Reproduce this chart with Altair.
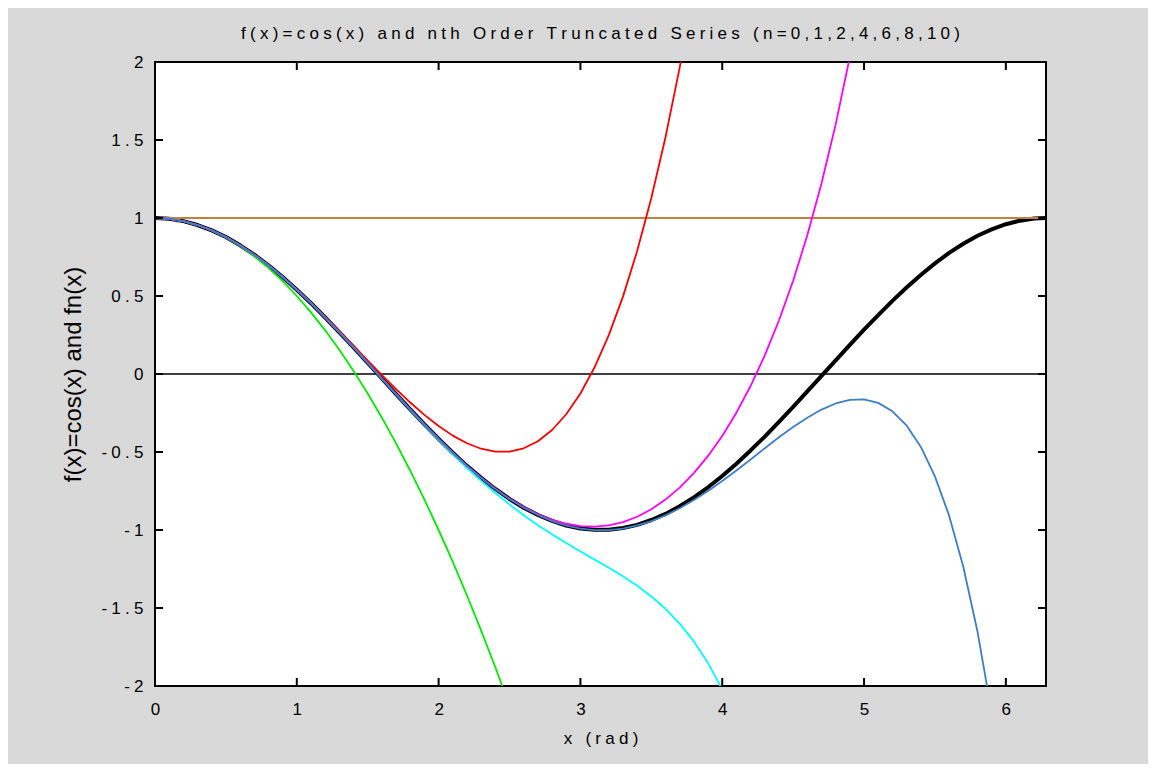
import altair as alt
import pandas as pd

# ---- data ----
xs = [0.0, 0.1, 0.2, 0.3, 0.4, 0.5, 0.6, 0.7, 0.8, 0.9,
      1.0, 1.1, 1.2, 1.3, 1.4, 1.5, 1.6, 1.7, 1.8, 1.9,
      2.0, 2.1, 2.2, 2.3, 2.4, 2.5, 2.6, 2.7, 2.8, 2.9,
      3.0, 3.1, 3.2, 3.3, 3.4, 3.5, 3.6, 3.7, 3.8, 3.9,
      4.0, 4.1, 4.2, 4.3, 4.4, 4.5, 4.6, 4.7, 4.8, 4.9,
      5.0, 5.1, 5.2, 5.3, 5.4, 5.5, 5.6, 5.7, 5.8, 5.9,
      6.0, 6.1, 6.2, 6.283]

cos_vals = [1.000, 0.995, 0.980, 0.955, 0.921, 0.878, 0.825, 0.765, 0.697, 0.622,
            0.540, 0.454, 0.362, 0.267, 0.170, 0.071, -0.029, -0.129, -0.227, -0.323,
            -0.416, -0.505, -0.589, -0.666, -0.737, -0.801, -0.857, -0.904, -0.942, -0.971,
            -0.990, -0.999, -0.998, -0.987, -0.967, -0.936, -0.897, -0.848, -0.791, -0.726,
            -0.654, -0.575, -0.490, -0.401, -0.307, -0.211, -0.112, -0.012, 0.087, 0.187,
            0.284, 0.378, 0.469, 0.554, 0.635, 0.709, 0.776, 0.835, 0.886, 0.927,
            0.960, 0.983, 0.997, 1.000]

n0_x = [0.0, 6.283]
n0_vals = [1.0, 1.0]

n2_vals = [1.000, 0.995, 0.980, 0.955, 0.920, 0.875, 0.820, 0.755, 0.680, 0.595,
           0.500, 0.395, 0.280, 0.155, 0.020, -0.125, -0.280, -0.445, -0.620, -0.805,
           -1.000, -1.205, -1.420, -1.645, -1.880, -2.125]

n4_vals = [1.000, 0.995, 0.980, 0.955, 0.921, 0.878, 0.825, 0.765, 0.697, 0.622,
           0.542, 0.456, 0.366, 0.274, 0.180, 0.086, -0.007, -0.097, -0.183, -0.262,
           -0.333, -0.395, -0.444, -0.479, -0.498, -0.497, -0.476, -0.431, -0.359, -0.258,
           -0.125, 0.043, 0.249, 0.496, 0.788, 1.128, 1.518, 1.964, 2.468]

n6_vals = [1.000, 0.995, 0.980, 0.955, 0.921, 0.878, 0.825, 0.765, 0.697, 0.622,
           0.540, 0.454, 0.362, 0.267, 0.170, 0.070, -0.030, -0.131, -0.230, -0.327,
           -0.422, -0.514, -0.601, -0.685, -0.763, -0.836, -0.905, -0.969, -1.028, -1.084,
           -1.138, -1.190, -1.242, -1.297, -1.357, -1.426, -1.505, -1.600, -1.714, -1.853,
           -2.022, -2.228]

n8_vals = [1.000, 0.995, 0.980, 0.955, 0.921, 0.878, 0.825, 0.765, 0.697, 0.622,
           0.540, 0.454, 0.362, 0.267, 0.170, 0.071, -0.029, -0.129, -0.227, -0.323,
           -0.416, -0.504, -0.588, -0.665, -0.736, -0.799, -0.853, -0.899, -0.935, -0.960,
           -0.975, -0.978, -0.970, -0.949, -0.915, -0.867, -0.805, -0.728, -0.635, -0.525,
           -0.397, -0.248, -0.077, 0.119, 0.343, 0.598, 0.889, 1.221, 1.600, 2.033]

n10_vals = [1.000, 0.995, 0.980, 0.955, 0.921, 0.878, 0.825, 0.765, 0.697, 0.622,
            0.540, 0.454, 0.362, 0.267, 0.170, 0.071, -0.029, -0.129, -0.227, -0.323,
            -0.416, -0.505, -0.589, -0.666, -0.737, -0.801, -0.857, -0.904, -0.943, -0.972,
            -0.991, -1.001, -1.001, -0.991, -0.971, -0.943, -0.906, -0.861, -0.808, -0.750,
            -0.686, -0.618, -0.548, -0.476, -0.406, -0.340, -0.280, -0.228, -0.189, -0.166,
            -0.163, -0.185, -0.239, -0.330, -0.466, -0.656, -0.908, -1.236, -1.651, -2.169]

zero_x = [0.0, 6.283]
zero_vals = [0.0, 0.0]

x_ticks = [0, 1, 2, 3, 4, 5, 6]
y_ticks = [-2, -1.5, -1, -0.5, 0, 0.5, 1, 1.5, 2]

title_text = "f(x)=cos(x) and nth Order Truncated Series (n=0,1,2,4,6,8,10)"
xlabel_text = "x (rad)"
ylabel_text = "f(x)=cos(x) and fn(x)"

# ---- build table ----
rows = []
def add(name, vals, xvals=xs):
    for i, (x, y) in enumerate(zip(xvals, vals)):
        rows.append({"series": name, "x": x, "y": y, "i": i})

add("cos", cos_vals)
add("zero", zero_vals, zero_x)
add("n0", n0_vals, n0_x)
add("n2", n2_vals)
add("n4", n4_vals)
add("n6", n6_vals)
add("n8", n8_vals)
add("n10", n10_vals)
df = pd.DataFrame(rows)

SP = "\u2005"
def spaced(s):
    return SP.join("\u00a0" if c == " " else c for c in s)

FONT = "Liberation Sans"
W, H = 891, 624

xscale = alt.Scale(domain=[0, 6.2832], nice=False, zero=False)
yscale = alt.Scale(domain=[-2, 2], nice=False, zero=False)

xaxis = alt.Axis(values=x_ticks, ticks=False, domain=False, grid=False,
                 labelFont=FONT, labelFontSize=17, labelColor="black",
                 labelPadding=15, labelFlush=False, labelOverlap=False,
                 title=spaced(xlabel_text), titleFont=FONT, titleFontSize=17,
                 titleFontWeight="normal", titleColor="black",
                 titleX=W / 2, titleY=52, titleBaseline="middle", titleAnchor="middle")

yaxis = alt.Axis(values=y_ticks, ticks=False, domain=False, grid=False,
                 labelFont=FONT, labelFontSize=17, labelColor="black",
                 labelPadding=12, labelFlush=False, labelOverlap=False,
                 labelExpr="(datum.value < 0 ? '-" + SP + "' : '') + replace(format(abs(datum.value), '~g'), '.', '" + SP + "." + SP + "')",
                 title=ylabel_text, titleFont=FONT, titleFontSize=24,
                 titleFontWeight="normal", titleColor="black",
                 titleX=-82, titleY=H / 2, titleBaseline="middle", titleAnchor="middle",
                 titleAngle=270)

base = alt.Chart(df)

def line(name, color, width):
    return base.transform_filter(alt.datum.series == name).mark_line(
        clip=True, color=color, strokeWidth=width, strokeJoin="round", strokeCap="butt"
    ).encode(
        x=alt.X("x:Q", scale=xscale, axis=xaxis),
        y=alt.Y("y:Q", scale=yscale, axis=yaxis),
        order="i:Q",
    )

layers = [
    line("cos", "#000000", 4),
    line("zero", "#000000", 1.6),
    line("n0", "#c4803f", 2),
    line("n2", "#00ee00", 1.8),
    line("n4", "#ff0000", 1.8),
    line("n6", "#00ffff", 1.8),
    line("n8", "#ff00ff", 1.8),
    line("n10", "#3d7fc6", 1.8),
]

xt = pd.DataFrame({"x": x_ticks})
yt = pd.DataFrame({"y": y_ticks})
tick_style = dict(color="black", strokeWidth=2)

layers += [
    alt.Chart(xt).mark_rule(**tick_style).encode(
        x=alt.X("x:Q", scale=xscale, axis=xaxis), y=alt.value(H), y2=alt.value(H - 8)),
    alt.Chart(xt).mark_rule(**tick_style).encode(
        x=alt.X("x:Q", scale=xscale, axis=xaxis), y=alt.value(0), y2=alt.value(8)),
    alt.Chart(yt).mark_rule(**tick_style).encode(
        y=alt.Y("y:Q", scale=yscale, axis=yaxis), x=alt.value(0), x2=alt.value(8)),
    alt.Chart(yt).mark_rule(**tick_style).encode(
        y=alt.Y("y:Q", scale=yscale, axis=yaxis), x=alt.value(W), x2=alt.value(W - 8)),
]

chart = alt.layer(*layers).properties(
    width=W, height=H,
    title=alt.TitleParams(text=spaced(title_text), font=FONT, fontSize=17,
                          fontWeight="normal", color="black", anchor="middle", offset=10),
    autosize=alt.AutoSizeParams(type="none"),
    padding={"left": 147, "top": 54, "right": 102, "bottom": 78},
    background="#d9d9d9",
).configure_view(
    fill="white", stroke="black", strokeWidth=2
)

chart.save("out.html", embed_options={"renderer": "svg", "actions": False})
